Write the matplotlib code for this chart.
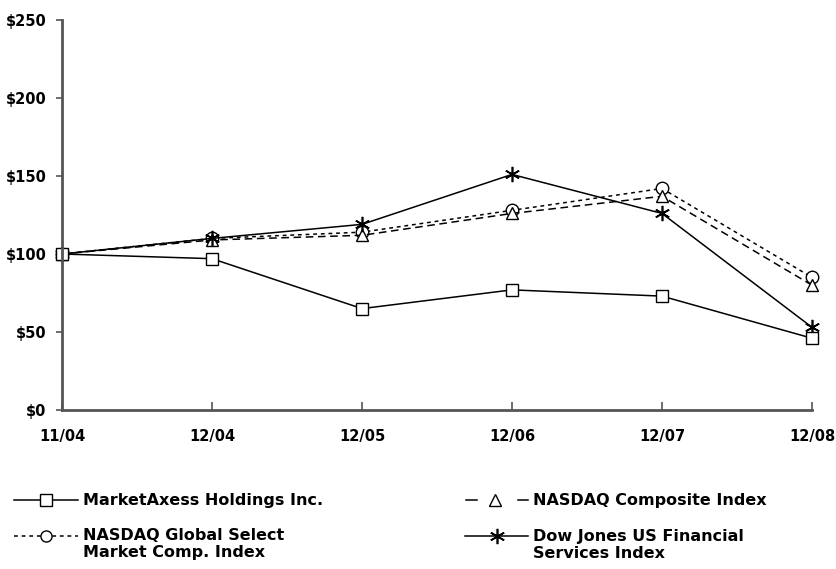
import matplotlib
matplotlib.use("Agg")
import matplotlib.pyplot as plt
from matplotlib.lines import Line2D

plt.rcParams['font.family'] = ['DejaVu Sans']
plt.rcParams['font.weight'] = 'bold'

periods = ['11/04', '12/04', '12/05', '12/06', '12/07', '12/08']
marketaxess = [100, 97, 65, 77, 73, 46]
nasdaq_composite = [100, 109, 112, 126, 137, 80]
nasdaq_global = [100, 110, 114, 128, 142, 85]
dow_jones_fin = [100, 110, 119, 151, 126, 53]
y_ticks = [0, 50, 100, 150, 200, 250]

W, H = 836, 569
fig = plt.figure(figsize=(W / 100, H / 100), dpi=100)
ax = fig.add_axes([62 / W, 1 - 410 / H, 750 / W, 390 / H])

x = range(len(periods))
mk = dict(markerfacecolor='white', markeredgecolor='black', markersize=9, markeredgewidth=1)
star = dict(marker=(6, 2, 0), markersize=11, markeredgecolor='black', markeredgewidth=1.2)
ax.plot(x, nasdaq_global, color='black', lw=1.1, ls=(0, (2.5, 2.5)), marker='o', **mk)
ax.plot(x, nasdaq_composite, color='black', lw=1.1, ls=(0, (5, 3)), marker='^', **mk)
ax.plot(x, dow_jones_fin, color='black', lw=1.1, **star)
ax.plot(x, marketaxess, color='black', lw=1.1, marker='s', **mk)

ax.set_xlim(0, len(periods) - 1)
ax.set_ylim(0, 250)
ax.set_xticks(list(x))
ax.set_xticklabels(periods)
ax.set_yticks(y_ticks)
ax.set_yticklabels(['$%d' % v for v in y_ticks])
ax.tick_params(axis='x', direction='in', length=6, width=1.2, color='#555555',
               labelsize=10.5, pad=14)
ax.tick_params(axis='y', direction='out', length=4, width=1.2, color='#555555',
               labelsize=10.5, pad=7)
for s in ['top', 'right']:
    ax.spines[s].set_visible(False)
for s in ['left', 'bottom']:
    ax.spines[s].set_color('#555555')
    ax.spines[s].set_linewidth(2)
for line in ax.lines:
    line.set_clip_on(False)


# legend drawn by hand, two columns
def px(xp, yp):
    return xp / W, 1 - yp / H


def handle(segments, xm, y, ls='-', **kw):
    for a, b in segments:
        (x0, y0), (x1, _) = px(a, y), px(b, y)
        fig.add_artist(Line2D([x0, x1], [y0, y0], color='black', lw=1.1, ls=ls))
    xm_, ym_ = px(xm, y)
    fig.add_artist(Line2D([xm_], [ym_], color='black', lw=0, **kw))


def label(xp, y, lines):
    for i, t in enumerate(lines):
        fx, fy = px(xp, y + 17 * i)
        fig.text(fx, fy, t, fontsize=11.5, fontweight='bold', va='center', ha='left')


mk_leg = dict(mk, markersize=8)
handle([(14, 78)], 46, 500, marker='s', **mk_leg)
label(83, 500, ['MarketAxess Holdings Inc.'])
handle([(14, 78)], 46, 536, ls=(0, (2.5, 2.5)), marker='o', **mk_leg)
label(83, 536, ['NASDAQ Global Select', 'Market Comp. Index'])
handle([(466, 477), (518, 528)], 495, 500, marker='^', **mk_leg)
label(533, 500, ['NASDAQ Composite Index'])
handle([(465, 528)], 497, 536, **star)
label(533, 536, ['Dow Jones US Financial', 'Services Index'])

fig.savefig('out.png', dpi=100)
